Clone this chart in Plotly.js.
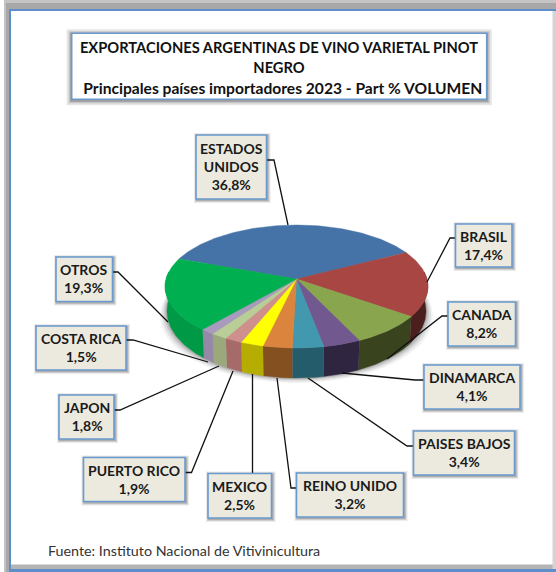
<!DOCTYPE html>
<html><head><meta charset="utf-8">
<script src="https://cdn.plot.ly/plotly-3.0.1.min.js"></script>
<style>html,body{margin:0;padding:0;background:#fff;overflow:hidden}#c{width:556px;height:572px}</style>
</head><body><div id="c"></div>
<script>
const categories = ["ESTADOS UNIDOS","BRASIL","CANADA","DINAMARCA","PAISES BAJOS","REINO UNIDO","MEXICO","PUERTO RICO","JAPON","COSTA RICA","OTROS"];
const values = [36.8,17.4,8.2,4.1,3.4,3.2,2.5,1.9,1.8,1.5,19.3];
const boxLabels = ["ESTADOS<br>UNIDOS<br>36,8%","BRASIL<br>17,4%","CANADA<br>8,2%","DINAMARCA<br>4,1%","PAISES BAJOS<br>3,4%","REINO UNIDO<br>3,2%","MEXICO<br>2,5%","PUERTO RICO<br>1,9%","JAPON<br>1,8%","COSTA RICA<br>1,5%","OTROS<br>19,3%"];
const topColors = ["#4572A7","#A84643","#89A54E","#71588F","#4198AF","#DB843D","#FFFF00","#CF8F8D","#B9CD96","#A99BBD","#00B050"];
const wallColors = ["#2b4566","#4a1f1e","#39441f","#2f2540","#255c6b","#84501f","#b5ae00","#a66a68","#9aa87c","#9689a8","#009a46"];
// label box: [left, top, right, bottom]
const boxes = [[196,135,266.5,199],[455.5,224,512,267],[448,302,515.5,346],[424,365,520,409],[413.5,431,514.5,475],[296.5,473,403.5,517],[208,473.5,271.5,518],[83.5,457.5,185,501.5],[59,395,114,439],[36,326,126,370],[56,257,112.5,301.5]];
// leader polylines in page pixels
const leaders = [
 [[267,160],[274,160],[288,225]],
 [[455,238],[450,238],[427,282]],
 [[448,316],[442,316],[387,359]],
 [[424,380],[415,380],[342,373]],
 [[413,446],[407,446],[308,378]],
 [[296,488],[291,488],[277,378]],
 [[252.5,473],[252.5,374]],
 [[185,472.5],[191.5,472.5],[233,371]],
 [[114,410],[120,410],[219,366]],
 [[126,340],[133,340],[208,362]],
 [[113,272],[118,272],[168,322]]
];

// perspective pie projection (angle measured clockwise from the back of the pie)
const cx=296.5, R=130.5, persp=-0.122, py0=279, pyA=26.55, depth=30, startDeg=-69.8;
const total=values.reduce((a,b)=>a+b,0);
function rimTop(t){const v=Math.sin(t),u=-Math.cos(t),w=1+persp*u;return [cx+R*v/w,(pyA*u+py0)/w];}
function rimBot(t){const p=rimTop(t),u=-Math.cos(t);const f=0.985;return [cx+(p[0]-cx)*f,p[1]+depth*(0.8+0.2*u)];}
let cum=0;const spans=values.map(v=>{const a=startDeg+cum/total*360;cum+=v;return [a,startDeg+cum/total*360];});
const rad=d=>d*Math.PI/180;
function arc(a,b,fn){const n=Math.max(2,Math.ceil(Math.abs(b-a)));const o=[];for(let i=0;i<=n;i++)o.push(fn(rad(a+(b-a)*i/n)));return o;}
const traces=[];
function poly(pts,color,name){traces.push({type:'scatter',mode:'lines',x:pts.map(p=>p[0]),y:pts.map(p=>p[1]),fill:'toself',fillcolor:color,line:{width:0.4,color:color},name:name,hoverinfo:'name',showlegend:false});}
// walls: only the near half of the rim
spans.forEach((s,i)=>{
  const g0=Math.max(s[0],83),g1=Math.min(s[1],277);
  if(g1>g0){poly(arc(g0,g1,rimTop).concat(arc(g1,g0,rimBot)),wallColors[i],categories[i]);}
});
// top faces
spans.forEach((s,i)=>{
  const a=arc(s[0],s[1],rimTop);poly([[cx,py0]].concat(a,[[cx,py0]]),topColors[i],categories[i]);
});

const shapes=[];
const rect=(x0,y0,x1,y1,fill,line,lw,layer)=>({type:'rect',xref:'x',yref:'y',x0,y0,x1,y1,fillcolor:fill,line:{color:line||'rgba(0,0,0,0)',width:lw||0},layer:layer||'below'});
// outer frame
shapes.push(rect(4,0,9,572,'#c4c4c4'));
shapes.push(rect(6,0,9,572,'#a8a8a8'));
shapes.push(rect(4,0,556,9,'#c4c4c4'));
shapes.push(rect(6,3,556,9,'#a8a8a8'));
shapes.push(rect(9,564.5,556,569,'#b4b4b4'));
shapes.push(rect(552.5,9,556,569,'#d4d4d4'));
shapes.push(rect(9,569,556,572,'#5f8fca'));
shapes.push(rect(9,9,11,572,'#5f8fca'));
shapes.push(rect(9,9,556,11,'#5f8fca'));
// title box shadow + box
[[5,0.10],[3,0.14],[1.5,0.2]].forEach(([d,o])=>shapes.push(rect(71.7-d,33.3-d+1,486.7+d,99.3+d+1,`rgba(0,0,0,${o})`)));
shapes.push(rect(71.7,33.3,486.7,99.3,'#ffffff','#6a9ad0',1.6));
// pie shadow
[[7,0.05],[5,0.08],[3,0.10],[1.5,0.12]].forEach(([d,o])=>{
  const n=[];for(let k=0;k<=72;k++)n.push(rimBot(rad(k*5)));
  const path='M'+n.map(p=>(cx+(p[0]-cx)*(1+d/130)).toFixed(1)+','+(p[1]+d*0.7).toFixed(1)).join('L')+'Z';
  shapes.push({type:'path',xref:'x',yref:'y',path,fillcolor:`rgba(0,0,0,${o})`,line:{width:0},layer:'below'});
});
// box shadows
boxes.forEach(b=>{[[3,0.08],[2,0.12],[1,0.16]].forEach(([d,o])=>shapes.push(rect(b[0]-d+1,b[1]-d+1,b[2]+d+1,b[3]+d+1,`rgba(0,0,0,${o})`)));});
// leader lines
leaders.forEach(l=>shapes.push({type:'path',xref:'x',yref:'y',path:'M'+l.map(p=>p.join(',')).join('L'),line:{color:'#111',width:1.3},layer:'above'}));
// label boxes
boxes.forEach(b=>shapes.push(rect(b[0],b[1],b[2],b[3],'#ECEADF','#6a9ad0',1.6,'above')));

const annotations=boxes.map((b,i)=>({xref:'x',yref:'y',x:(b[0]+b[2])/2,y:(b[1]+b[3])/2-0.5,text:boxLabels[i],showarrow:false,xanchor:'center',yanchor:'middle',align:'center',font:{family:'Lato, sans-serif',size:14,color:'#1a1a1a',weight:700}}));
annotations.push({xref:'x',yref:'y',x:45.5,y:550,xanchor:'left',yanchor:'middle',showarrow:false,text:'Fuente: Instituto Nacional de Vitivinicultura',font:{family:'Lato, sans-serif',size:14.3,color:'#333'}});

Plotly.newPlot('c',traces,{
 width:556,height:572,margin:{l:0,r:0,t:0,b:0},paper_bgcolor:'#fff',plot_bgcolor:'rgba(0,0,0,0)',showlegend:false,
 title:{text:'<b><span style="font-size:14.7px">EXPORTACIONES ARGENTINAS DE VINO VARIETAL PINOT</span><br><span style="font-size:14.7px">NEGRO</span><br>&nbsp;&nbsp;Principales países importadores 2023 - Part % VOLUMEN</b>',x:279/556,xanchor:'center',y:1-53/572,yanchor:'middle',yref:'container',font:{family:'Lato, sans-serif',size:15.6,color:'#111'}},
 xaxis:{range:[0,556],visible:false,fixedrange:true},
 yaxis:{range:[572,0],visible:false,fixedrange:true},
 shapes,annotations
},{displayModeBar:false,staticPlot:true});
</script></body></html>
